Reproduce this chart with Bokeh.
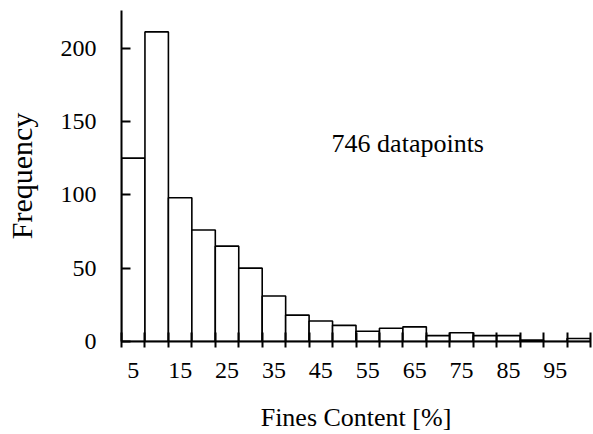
from bokeh.plotting import figure
from bokeh.models import Range1d, FixedTicker
from bokeh.embed import file_html
from bokeh.resources import INLINE
from bokeh.core.properties import value

# Data
bin_width = 5
bin_left = [2.5, 7.5, 12.5, 17.5, 22.5, 27.5, 32.5, 37.5, 42.5, 47.5,
            52.5, 57.5, 62.5, 67.5, 72.5, 77.5, 82.5, 87.5, 92.5, 97.5]
counts = [125, 211, 98, 76, 65, 50, 31, 18, 14, 11,
          7, 9, 10, 4, 6, 4, 4, 1, 0, 2]
x_tick_labels = [5, 15, 25, 35, 45, 55, 65, 75, 85, 95]
y_ticks = [0, 50, 100, 150, 200]
annotation = "746 datapoints"
x_label = "Fines Content [%]"
y_label = "Frequency"

bin_right = [l + bin_width for l in bin_left]
edges = bin_left + [bin_right[-1]]

FONT = "Liberation Serif"

p = figure(width=593, height=434, output_backend="svg", toolbar_location=None,
           x_range=Range1d(bin_left[0], bin_right[-1]), y_range=Range1d(0, 225.6),
           min_border_left=121, min_border_right=3, min_border_top=10, min_border_bottom=93)
p.outline_line_color = None
p.xgrid.visible = False
p.ygrid.visible = False
p.background_fill_color = "white"

p.quad(left=bin_left, right=bin_right, bottom=0, top=counts,
       fill_color="white", line_color="black", line_width=1.6)

p.text(x=[47.3], y=[135], text=[annotation], text_font=value(FONT),
       text_font_size="26px", text_align="left", text_baseline="middle",
       text_color="black")

# x axis
xa = p.xaxis[0]
xa.ticker = FixedTicker(ticks=x_tick_labels, minor_ticks=edges)
xa.axis_line_width = 2
xa.axis_line_color = "black"
xa.major_tick_line_color = None
xa.major_tick_in = 0
xa.major_tick_out = 0
xa.minor_tick_line_color = "black"
xa.minor_tick_line_width = 2
xa.minor_tick_in = 9
xa.minor_tick_out = 6
xa.major_label_standoff = 15
xa.major_label_text_font = FONT
xa.major_label_text_font_size = "24px"
xa.major_label_text_color = "black"
xa.axis_label = x_label
xa.axis_label_text_font = FONT
xa.axis_label_text_font_size = "26px"
xa.axis_label_text_font_style = "normal"
xa.axis_label_text_color = "black"
xa.axis_label_standoff = 22

# y axis
ya = p.yaxis[0]
ya.ticker = FixedTicker(ticks=y_ticks)
ya.axis_line_width = 2
ya.axis_line_color = "black"
ya.major_tick_line_color = "black"
ya.major_tick_line_width = 2
ya.major_tick_in = 9
ya.major_tick_out = 0
ya.minor_tick_line_color = None
ya.major_label_standoff = 25
ya.major_label_text_font = FONT
ya.major_label_text_font_size = "24px"
ya.major_label_text_color = "black"
ya.axis_label = y_label
ya.axis_label_text_font = FONT
ya.axis_label_text_font_size = "30px"
ya.axis_label_text_font_style = "normal"
ya.axis_label_text_color = "black"
ya.axis_label_standoff = 20

open("out.html", "w").write(file_html(p, INLINE))
